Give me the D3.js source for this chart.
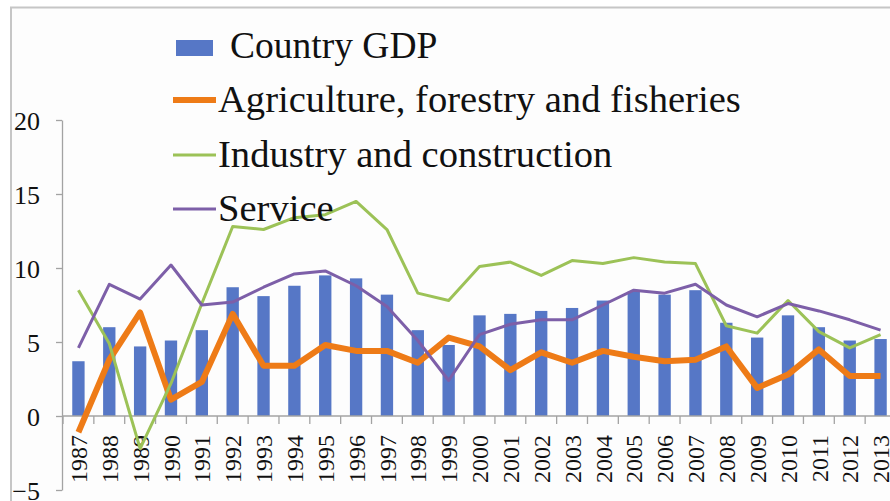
<!DOCTYPE html>
<html>
<head>
<meta charset="utf-8">
<script src="https://cdn.jsdelivr.net/npm/d3@7/dist/d3.min.js"></script>
<style>
  html, body { margin: 0; padding: 0; background: #ffffff; }
</style>
</head>
<body>
<svg id="chart" width="890" height="501"></svg>
<script>
// Annual growth rates (%) by year
const years = ["1987","1988","1989","1990","1991","1992","1993","1994","1995","1996",
               "1997","1998","1999","2000","2001","2002","2003","2004","2005","2006",
               "2007","2008","2009","2010","2011","2012","2013"];
const gdp         = [3.7, 6.0, 4.7, 5.1, 5.8, 8.7, 8.1, 8.8, 9.5, 9.3,
                     8.2, 5.8, 4.8, 6.8, 6.9, 7.1, 7.3, 7.8, 8.4, 8.2,
                     8.5, 6.3, 5.3, 6.8, 6.0, 5.1, 5.2];
const agriculture = [-1.1, 3.8, 7.0, 1.1, 2.3, 6.9, 3.4, 3.4, 4.8, 4.4,
                     4.4, 3.6, 5.3, 4.7, 3.1, 4.3, 3.6, 4.4, 4.0, 3.7,
                     3.8, 4.7, 1.9, 2.8, 4.5, 2.7, 2.7];
const industry    = [8.5, 4.9, -2.2, 2.2, 7.6, 12.8, 12.6, 13.4, 13.6, 14.5,
                     12.6, 8.3, 7.8, 10.1, 10.4, 9.5, 10.5, 10.3, 10.7, 10.4,
                     10.3, 6.1, 5.6, 7.8, 5.7, 4.6, 5.5];
const service     = [4.6, 8.9, 7.9, 10.2, 7.5, 7.7, 8.7, 9.6, 9.8, 8.8,
                     7.4, 5.1, 2.4, 5.5, 6.2, 6.5, 6.5, 7.5, 8.5, 8.3,
                     8.9, 7.5, 6.7, 7.6, 7.1, 6.5, 5.8];
const yTicks = [-5, 0, 5, 10, 15, 20];

const lineSeries = [
  { name: "Agriculture, forestry and fisheries", values: agriculture, color: "#ee7b17", width: 6 },
  { name: "Industry and construction",           values: industry,    color: "#9cc257", width: 3 },
  { name: "Service",                             values: service,     color: "#7d5fa8", width: 3 }
];
const barColor = "#5677c6";
const axisColor = "#a3a3a3";
const serif = '"Liberation Serif"';

const svg = d3.select("#chart");

// outer frame
svg.append("rect")
  .attr("x", 11).attr("y", 7.5)
  .attr("width", 900).attr("height", 520)
  .attr("fill", "#fdfdfd")
  .attr("stroke", "#c6c6c6").attr("stroke-width", 2);

const x = d3.scaleBand()
  .domain(years)
  .range([63, 896])
  .paddingInner(0.6)
  .paddingOuter(0.3);

const y = d3.scaleLinear().domain([-5, 20]).range([490, 120]);
const cx = d => x(d) + x.bandwidth() / 2;

// y axis
const yAxis = svg.append("g")
  .attr("transform", "translate(62,0)")
  .call(d3.axisLeft(y).tickValues(yTicks).tickSize(6).tickSizeOuter(0).tickPadding(16));
yAxis.select(".domain").attr("stroke", axisColor).attr("stroke-width", 1.3);
yAxis.selectAll(".tick line").attr("stroke", axisColor).attr("stroke-width", 1.3);
yAxis.selectAll(".tick text")
  .style("font-family", serif)
  .style("font-size", "26px")
  .attr("fill", "#111")
  .attr("dy", "0.36em");

// bars
svg.append("g").selectAll("rect")
  .data(years)
  .join("rect")
  .attr("x", d => x(d))
  .attr("width", x.bandwidth())
  .attr("y", (d, i) => y(Math.max(0, gdp[i])))
  .attr("height", (d, i) => Math.abs(y(gdp[i]) - y(0)))
  .attr("fill", barColor);

// x axis along zero, with tick marks between categories
const step = x.step();
const xAxisG = svg.append("g");
xAxisG.append("line")
  .attr("x1", 62).attr("x2", 896)
  .attr("y1", y(0)).attr("y2", y(0))
  .attr("stroke", axisColor).attr("stroke-width", 1.3);
xAxisG.selectAll("line.bound")
  .data(years.concat(["end"]))
  .join("line")
  .attr("class", "bound")
  .attr("x1", (d, i) => 63 + i * step)
  .attr("x2", (d, i) => 63 + i * step)
  .attr("y1", y(0)).attr("y2", y(0) + 8)
  .attr("stroke", axisColor).attr("stroke-width", 1.3);

const xLabels = svg.append("g")
  .attr("transform", `translate(0,${y(0)})`)
  .call(d3.axisBottom(x).tickSize(0).tickSizeOuter(0));
xLabels.select(".domain").remove();
xLabels.selectAll(".tick text")
  .attr("transform", "rotate(-90)")
  .attr("x", -19).attr("y", 0).attr("dy", "0.36em")
  .attr("text-anchor", "end")
  .style("font-family", serif)
  .style("font-size", "24px")
  .attr("fill", "#111");

// lines
const line = values => d3.line()
  .x((d, i) => cx(years[i]))
  .y(d => y(d))(values);

svg.append("g").selectAll("path")
  .data(lineSeries)
  .join("path")
  .attr("d", s => line(s.values))
  .attr("fill", "none")
  .attr("stroke", s => s.color)
  .attr("stroke-width", s => s.width)
  .attr("stroke-linejoin", "round");

// legend
const legend = svg.append("g");
legend.append("rect")
  .attr("x", 176).attr("y", 40).attr("width", 37).attr("height", 16)
  .attr("fill", barColor);
legend.append("text")
  .attr("x", 230).attr("y", 58)
  .style("font-family", serif).style("font-size", "37.5px")
  .attr("fill", "#111")
  .text("Country GDP");

const rowY = [112, 167, 221];
lineSeries.forEach((s, i) => {
  legend.append("line")
    .attr("x1", 173).attr("x2", 216)
    .attr("y1", rowY[i] - 12).attr("y2", rowY[i] - 12)
    .attr("stroke", s.color).attr("stroke-width", s.width);
  legend.append("text")
    .attr("x", 218).attr("y", rowY[i])
    .style("font-family", serif).style("font-size", "38.6px")
    .attr("fill", "#111")
    .text(s.name);
});
</script>
</body>
</html>
